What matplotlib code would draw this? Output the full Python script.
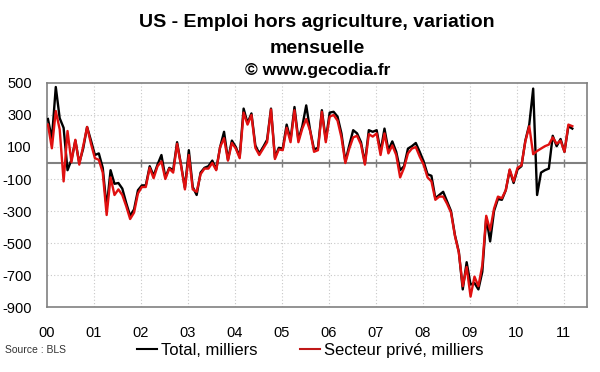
import matplotlib
matplotlib.use("Agg")
import matplotlib.pyplot as plt
from matplotlib.lines import Line2D
import numpy as np

plt.rcParams['font.family'] = ['Liberation Sans', 'DejaVu Sans']

# variation mensuelle, milliers (janv. 2000 -> mars 2011)
total = [
    275, 150, 475, 280, 220, -45, 20, 140, 0, 90, 225, 140,            # 2000
    50, 60, -30, -280, -45, -130, -125, -160, -250, -330, -290, -170,   # 2001
    -140, -140, -20, -80, -10, 50, -90, -30, -45, 130, -10, -155,       # 2002
    80, -150, -200, -60, -30, -20, 15, -40, 100, 195, 20, 140,          # 2003
    100, 40, 340, 250, 310, 110, 60, 100, 145, 340, 35, 95,             # 2004
    90, 240, 145, 350, 145, 230, 360, 205, 85, 95, 330, 145,            # 2005
    315, 320, 290, 185, 10, 110, 205, 185, 130, 0, 205, 195,            # 2006
    205, 70, 215, 80, 135, 70, -45, -20, 90, 105, 125, 70,              # 2007
    10, -70, -80, -220, -200, -180, -240, -300, -450, -555, -790, -620, # 2008
    -760, -750, -790, -680, -340, -490, -300, -225, -230, -170, -45, -125,  # 2009
    -40, -20, 140, 240, 465, -200, -60, -45, -35, 170, 105, 150,        # 2010
    70, 230, 215,                                                       # 2011
]
prive = [
    240, 92, 325, 210, -115, 200, 5, 145, -10, 105, 225, 120,
    30, 20, -60, -325, -90, -200, -165, -200, -270, -350, -310, -190,
    -150, -150, -30, -95, -20, 10, -100, -35, -60, 120, -15, -165,
    50, -165, -180, -70, -35, -35, 0, -45, 100, 155, 15, 125,
    90, 30, 315, 240, 300, 95, 50, 90, 130, 335, 25, 85,
    80, 220, 130, 330, 130, 215, 275, 200, 70, 80, 320, 130,
    290, 300, 265, 160, 0, 90, 160, 170, 115, -10, 180, 165,
    185, 50, 185, 60, 110, 50, -90, -30, 60, 90, 100, 40,
    -10, -90, -115, -230, -210, -210, -255, -310, -455, -560, -770, -650,
    -835, -710, -770, -640, -330, -420, -285, -210, -220, -170, -40, -115,
    -30, -15, 135, 230, 55, 75, 90, 105, 115, 160, 120, 140,
    70, 240, 230,
]
annees = ['00', '01', '02', '03', '04', '05', '06', '07', '08', '09', '10', '11']
y_ticks = [500, 300, 100, -100, -300, -500, -700, -900]

fig = plt.figure(figsize=(6, 3.72), dpi=100)
ax = fig.add_axes([0.0783, 0.1747, 0.9, 0.6022])

mois = np.arange(len(total)) + 0.25
ax.set_xlim(0, 138)
ax.set_ylim(-900, 500)

# grille pointillee
for k in range(1, len(annees)):
    ax.axvline(12 * k, color='#c8c8c8', lw=0.8, ls=(0, (1, 2)), zorder=1)
for v in y_ticks[1:-1]:
    ax.axhline(v, color='#c8c8c8', lw=0.8, ls=(0, (1, 2)), zorder=1)

# ligne du zero avec petites graduations
ax.axhline(0, color='#808080', lw=1.5, zorder=2)
ax.vlines([12 * k for k in range(1, len(annees))], -22, 22, color='#808080', lw=1, zorder=2)

ax.plot(mois, total, color='black', lw=1.7, zorder=3)
ax.plot(mois, prive, color='#e01010', lw=1.7, zorder=4)

ax.set_yticks(y_ticks)
ax.set_yticklabels([str(v) for v in y_ticks])
ax.set_xticks([12 * k for k in range(len(annees))])
ax.set_xticklabels(annees)
ax.tick_params(axis='both', length=0, labelsize=10.5, colors='black')
ax.tick_params(axis='x', pad=14)
ax.tick_params(axis='y', pad=11)
for s in ax.spines.values():
    s.set_color('#808080')
    s.set_linewidth(1.2)

# titre
fig.text(0.528, 0.927, "US - Emploi hors agriculture, variation",
         ha='center', va='baseline', fontsize=14, fontweight='bold')
fig.text(0.528, 0.857, "mensuelle", ha='center', va='baseline',
         fontsize=14, fontweight='bold')
fig.text(0.53, 0.798, "© www.gecodia.fr", ha='center', va='baseline',
         fontsize=12.5, fontweight='bold')
fig.text(0.008, 0.052, "Source : BLS", fontsize=7.5, color='#333333')

handles = [Line2D([], [], color='black', lw=1.5),
           Line2D([], [], color='#c01818', lw=1.5)]
fig.legend(handles, ['Total, milliers', 'Secteur privé, milliers'],
           loc='center', bbox_to_anchor=(0.517, 0.059), ncol=2, frameon=False,
           fontsize=12, handlelength=1.2, handletextpad=0.2, columnspacing=2.6,
           borderpad=0, borderaxespad=0)

fig.savefig('out.png', dpi=100)
